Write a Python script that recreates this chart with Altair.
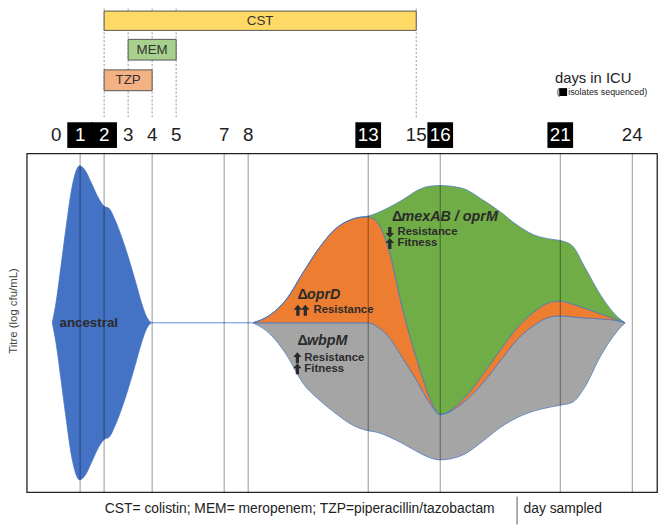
import altair as alt
import pandas as pd

FONT = "Liberation Sans"
INK = "#2b2b2b"

# ---------------- data (x = day in ICU, y = titre, log units, 0 = centre line) ----------------
anc_day = [-0.16, 0.0, 0.2, 0.4, 0.66, 0.98, 1.22, 1.48, 1.77, 2.0, 2.2, 2.46, 2.73, 3.0, 3.28, 3.55, 3.77, 3.97]
anc_half = [0, 1.22, 3.32, 5.48, 7.99, 9.27, 8.98, 8.22, 7.35, 6.88, 6.76, 6.06, 5.07, 3.91, 2.57, 1.22, 0.35, 0]

st_day = [8.2, 8.9, 9.6, 10.3, 11.0, 11.6, 12.3, 12.8, 13.0, 13.4, 13.9, 14.4, 15.1, 15.5,
          16.0, 16.9, 17.8, 18.5, 19.2, 19.9, 20.6, 21.0, 21.5, 22.0, 22.7, 23.4, 23.7]
wbpM_low = [0, -0.65, -1.9, -3.6, -4.6, -5.3, -6.0, -6.3, -6.37, -6.47, -6.75, -7.1, -7.65, -7.93,
            -8.09, -7.83, -6.96, -6.18, -5.6, -5.21, -4.97, -4.86, -4.7, -3.85, -1.91, -0.45, 0]
wbpM_high = [0, 0, 0, 0, 0, 0, 0, 0, 0, -0.25, -0.9, -2.0, -3.6, -4.6,
             -5.4, -4.78, -3.5, -2.25, -1.0, -0.15, 0.35, 0.41, 0.35, 0.29, 0.23, 0.12, 0]
oprD_high = [0, 0.45, 1.4, 3.0, 4.5, 5.5, 6.1, 6.25, 6.25, 5.9, 4.1, 1.0, -2.5, -4.2,
             -5.4, -4.6, -3.0, -1.6, -0.3, 0.64, 1.22, 1.28, 1.11, 0.87, 0.52, 0.17, 0]
mexAB_high = [0, 0.45, 1.4, 3.0, 4.5, 5.5, 6.1, 6.25, 6.3, 6.5, 6.84, 7.23, 7.85, 8.05,
              8.1, 7.95, 7.23, 6.55, 5.77, 5.19, 4.94, 4.86, 4.55, 3.34, 1.59, 0.33, 0]

sampled_days = [1, 2, 4, 7, 8, 13, 16, 21, 24]
label_days = [0, 1, 2, 3, 4, 5, 7, 8, 13, 15, 16, 21, 24]
sequenced_days = [1, 2, 13, 16, 21]

drugs = ["CST", "MEM", "TZP"]
drug_start = [2, 3, 2]
drug_end = [15, 5, 4]
drug_fill = ["#FFD966", "#A9D18E", "#F4B183"]
guide_days = [2, 3, 4, 5, 15]

# layout levels (titre units above / below the plot frame)
drug_top = [18.40, 16.73, 14.93]
drug_bot = [17.26, 15.51, 13.70]
LABEL_Y = 11.08
GUIDE_Y = [12.13, 19.5]

xs = alt.Scale(domain=[-1.222, 25.03], nice=False, zero=False)
ys = alt.Scale(domain=[-10, 10], nice=False, zero=False)

ARROW = "M-0.3,1L0.3,1L0.3,-0.12L0.78,-0.12L0,-1L-0.78,-0.12L-0.3,-0.12Z"


def X(f):
    return alt.X(f, type="quantitative", scale=xs, axis=None)


def Y(f):
    return alt.Y(f, type="quantitative", scale=ys, axis=None)


def text_layer(rows, **kw):
    df = pd.DataFrame(rows, columns=["x", "y", "t"])
    base = dict(font=FONT, baseline="middle")
    base.update(kw)
    return alt.Chart(df).mark_text(**base).encode(x=X("x"), y=Y("y"), text="t:N")


# ---------------- streams ----------------
anc = pd.DataFrame({"day": anc_day, "lo": [-h for h in anc_half], "hi": anc_half})
st = pd.DataFrame({"day": st_day, "b": wbpM_low, "g": wbpM_high, "o": oprD_high, "m": mexAB_high})

area_kw = dict(interpolate="monotone", stroke="#4472C4", strokeWidth=0.7)
ancestral = alt.Chart(anc).mark_area(color="#4472C4", **area_kw).encode(x=X("day"), y=Y("lo"), y2="hi")
gray = alt.Chart(st).mark_area(fill="#A5A5A5", **area_kw).encode(x=X("day"), y=Y("b"), y2="g")
orange = alt.Chart(st).mark_area(fill="#ED7D31", **area_kw).encode(x=X("day"), y=Y("g"), y2="o")
green = alt.Chart(st).mark_area(fill="#70AD47", **area_kw).encode(x=X("day"), y=Y("o"), y2="m")

link = alt.Chart(pd.DataFrame({"a": [anc_day[-1]], "b": [st_day[0]], "y": [0]})).mark_rule(
    color="#5B8FD6", strokeWidth=1).encode(x=X("a"), x2="b", y=Y("y"))

rules = alt.Chart(pd.DataFrame({"day": sampled_days})).mark_rule(
    color="black", opacity=0.42, strokeWidth=1).encode(x=X("day"))

# ---------------- drugs ----------------
ddf = pd.DataFrame({"drug": drugs, "s": drug_start, "e": drug_end, "top": drug_top, "bot": drug_bot,
                    "fill": drug_fill, "mid": [(a + b) / 2 for a, b in zip(drug_start, drug_end)],
                    "cy": [(a + b) / 2 for a, b in zip(drug_top, drug_bot)]})
guides = alt.Chart(pd.DataFrame({"day": guide_days, "y0": GUIDE_Y[0], "y1": GUIDE_Y[1]})).mark_rule(
    color="#7a7a7a", strokeDash=[2, 2], strokeWidth=0.8).encode(x=X("day"), y=Y("y0"), y2="y1")
bars = alt.Chart(ddf).mark_rect(stroke="#555555", strokeWidth=1).encode(
    x=X("s"), x2="e", y=Y("bot"), y2="top", fill=alt.Fill("fill:N", scale=None))
bar_text = alt.Chart(ddf).mark_text(font=FONT, fontSize=13.5, color="#333333", baseline="middle").encode(
    x=X("mid"), y=Y("cy"), text="drug:N")

# ---------------- day labels ----------------
ldf = pd.DataFrame({"day": label_days, "y": LABEL_Y, "t": [str(d) for d in label_days],
                    "seq": [d in sequenced_days for d in label_days]})
boxes = alt.Chart(ldf[ldf.seq]).mark_square(size=676, color="black", opacity=1, filled=True).encode(
    x=X("day"), y=Y("y"))
lab_plain = alt.Chart(ldf[~ldf.seq]).mark_text(font=FONT, fontSize=19, color="#222222", baseline="middle").encode(
    x=X("day"), y=Y("y"), text="t:N")
lab_seq = alt.Chart(ldf[ldf.seq]).mark_text(font=FONT, fontSize=19, color="white", baseline="middle").encode(
    x=X("day"), y=Y("y"), text="t:N")

# ---------------- annotations ----------------
bold = dict(fontWeight="bold", color=INK, align="left")
bi = dict(fontWeight="bold", fontStyle="italic", color=INK, align="left", fontSize=14.5)
ann = [
    text_layer([[0.14, 0, "ancestral"]], fontSize=13.5, **bold),
    text_layer([[10.05, 1.65, "Δ"], [10.05, -1.09, "Δ"], [13.99, 6.22, "Δ"]], fontSize=14.5, **bold),
    text_layer([[10.45, 1.65, "oprD"], [10.45, -1.09, "wbpM"], [14.39, 6.22, "mexAB / oprM"]], **bi),
    text_layer([[10.72, 0.74, "Resistance"], [10.34, -2.06, "Resistance"], [10.34, -2.72, "Fitness"],
                [14.22, 5.34, "Resistance"], [14.22, 4.68, "Fitness"]], fontSize=11.5, **bold),
]
up = pd.DataFrame({"x": [10.07, 10.38, 10.05, 10.05, 13.9], "y": [0.74, 0.74, -2.06, -2.72, 4.68]})
down = pd.DataFrame({"x": [13.9], "y": [5.34]})
arrows_up = alt.Chart(up).mark_point(shape=ARROW, filled=True, size=121, color=INK, opacity=1,
                                     strokeWidth=0).encode(x=X("x"), y=Y("y"))
arrows_dn = alt.Chart(down).mark_point(shape=ARROW, filled=True, size=121, color=INK, opacity=1,
                                       strokeWidth=0, angle=180).encode(x=X("x"), y=Y("y"))

legend_sq = alt.Chart(pd.DataFrame({"x": [21.12], "y": [13.62]})).mark_square(
    size=64, color="black", opacity=1, filled=True).encode(x=X("x"), y=Y("y"))
others = [
    text_layer([[22.37, 14.47, "days in ICU"]], fontSize=15, color="#222222"),
    text_layer([[20.98, 13.62, "("]], fontSize=9, color="#222222", align="right"),
    text_layer([[21.33, 13.62, "isolates sequenced)"]], fontSize=9, color="#222222", align="left"),
    text_layer([[2.03, -11.02, "CST= colistin; MEM= meropenem; TZP=piperacillin/tazobactam"],
                [19.47, -11.02, "day sampled"]], fontSize=14, color="#222222", align="left"),
    text_layer([[-1.757, 0.7, "Titre (log cfu/mL)"]], fontSize=11.5, color="#444444", angle=270),
]
sep = alt.Chart(pd.DataFrame({"x": [19.2], "y0": [-10.26], "y1": [-11.9]})).mark_rule(
    color="#555555", strokeWidth=1).encode(x=X("x"), y=Y("y0"), y2="y1")

chart = alt.layer(
    guides, bars, bar_text,
    ancestral, gray, orange, green, link, rules,
    boxes, lab_plain, lab_seq,
    *ann, arrows_up, arrows_dn, legend_sq, *others, sep,
).properties(
    width=638, height=343,
    padding={"left": 19, "top": 144, "right": 2, "bottom": 32},
    autosize=alt.AutoSizeParams(type="none"),
).configure_view(stroke="#222222", strokeWidth=1.3)

chart.save("out.html", embed_options={"renderer": "svg", "actions": False})
